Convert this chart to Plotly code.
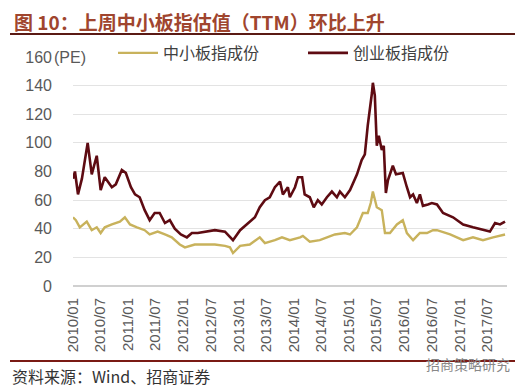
import plotly.graph_objects as go

# 创业板指成份 (ChiNext) PE TTM
cyb_dates = ["2010-01-01","2010-01-14","2010-02-03","2010-03-01","2010-04-08","2010-05-05","2010-06-07","2010-07-03",
             "2010-07-30","2010-09-15","2010-10-11","2010-11-20","2010-12-16","2011-01-19","2011-02-15","2011-03-18",
             "2011-04-20","2011-05-23","2011-06-25","2011-07-28","2011-09-01","2011-10-03","2011-11-05","2011-12-15",
             "2012-01-24","2012-02-26","2012-04-05","2012-05-21","2012-07-27","2012-10-02","2012-11-04","2012-11-24",
             "2013-01-10","2013-03-15","2013-04-18","2013-05-20","2013-06-23","2013-07-25","2013-08-28","2013-10-01",
             "2013-10-20","2013-11-22","2013-12-05","2014-01-08","2014-01-28","2014-02-24","2014-03-13","2014-04-16",
             "2014-05-12","2014-06-08","2014-07-04","2014-08-07","2014-09-09","2014-10-12","2014-11-01","2014-12-04",
             "2015-01-07","2015-02-22","2015-03-25","2015-04-15","2015-05-04","2015-06-01","2015-06-07","2015-06-20",
             "2015-07-03","2015-07-16","2015-08-05","2015-08-18","2015-09-01","2015-09-15","2015-10-17","2015-11-07",
             "2015-12-22","2016-01-18","2016-02-08","2016-02-28","2016-03-24","2016-04-13","2016-05-03","2016-06-05",
             "2016-07-01","2016-08-04","2016-09-13","2016-11-18","2017-01-24","2017-03-30","2017-06-04","2017-07-20",
             "2017-08-23","2017-09-25","2017-10-28"]
cyb_values = [75,80,64,75,100,78,91,67,
              76,69,71,81,79,69,64,62,
              53,46,51,51,44,46,40,36,
              34,37,37,38,39,38,34,32,
              39,45,48,55,60,62,69,73,
              64,69,62,69,76,76,64,62,
              55,60,57,62,66,62,66,62,
              67,78,88,92,112,135,142,133,
              98,105,95,98,65,74,84,78,
              79,69,62,64,58,64,56,57,
              58,57,51,48,43,41,39,38,
              44,43,45]

# 中小板指成份 (SME board) PE TTM
zxb_dates = ["2010-01-01","2010-01-20","2010-02-15","2010-03-12","2010-04-02","2010-05-05","2010-06-07","2010-07-03",
             "2010-07-30","2010-09-15","2010-11-07","2010-12-10","2011-01-13","2011-02-28","2011-04-20","2011-05-23",
             "2011-06-25","2011-07-15","2011-09-01","2011-10-16","2011-12-08","2012-01-11","2012-03-16","2012-05-21",
             "2012-07-27","2012-10-02","2012-11-04","2012-11-24","2013-01-10","2013-03-15","2013-05-20","2013-06-23",
             "2013-08-28","2013-10-14","2013-12-05","2014-02-11","2014-03-01","2014-04-16","2014-06-21","2014-09-29",
             "2014-12-04","2015-01-07","2015-02-22","2015-04-02","2015-05-04","2015-05-24","2015-06-07","2015-07-03",
             "2015-08-05","2015-08-26","2015-09-28","2015-11-13","2015-12-22","2016-01-18","2016-02-28","2016-04-13",
             "2016-05-30","2016-07-08","2016-08-04","2016-10-30","2017-01-24","2017-03-30","2017-06-04","2017-08-10",
             "2017-10-28"]
zxb_values = [48,46,41,43,45,39,41,37,
              41,43,45,48,43,41,39,36,
              37,38,36,34,29,27,29,29,
              29,28,27,23,28,29,34,30,
              32,34,32,34,35,31,32,36,
              37,36,41,51,51,58,66,55,
              53,37,37,43,46,37,32,37,
              37,39,39,36,32,34,32,34,
              36]

y_ticks = [0, 20, 40, 60, 80, 100, 120, 140, 160]
x_ticks = ["2010-01-01","2010-07-01","2011-01-01","2011-07-01","2012-01-01","2012-07-01","2013-01-01","2013-07-01",
           "2014-01-01","2014-07-01","2015-01-01","2015-07-01","2016-01-01","2016-07-01","2017-01-01","2017-07-01"]
x_labels = ["2010/01","2010/07","2011/01","2011/07","2012/01","2012/07","2013/01","2013/07",
            "2014/01","2014/07","2015/01","2015/07","2016/01","2016/07","2017/01","2017/07"]

GOLD = "#C8B25C"
DARKRED = "#5E0B12"
CJK = "Noto Sans CJK SC"

# the page body has an 8px default margin; size the figure so it fills the window
OFF = 8
W, H = 525 - OFF, 389 - OFF
pl, pr, pt, pb = 73 - OFF, 18, 57 - OFF, 389 - 286
pw, ph = W - pl - pr, H - pt - pb
def px(x): return (x - OFF - pl) / pw       # screen x -> paper
def py(y): return (H - pb - (y - OFF)) / ph  # screen y -> paper

fig = go.Figure()
fig.add_trace(go.Scatter(x=zxb_dates, y=zxb_values, mode="lines", name="中小板指成份",
                         line=dict(color=GOLD, width=2.4)))
fig.add_trace(go.Scatter(x=cyb_dates, y=cyb_values, mode="lines", name="创业板指成份",
                         line=dict(color=DARKRED, width=2.6)))

fig.update_layout(
    width=W, height=H,
    margin=dict(l=pl, r=pr, t=pt, b=pb, autoexpand=False),
    paper_bgcolor="white", plot_bgcolor="white",
    font=dict(family="Arial, Liberation Sans, sans-serif", color="#595959", size=13),
    showlegend=True,
    legend=dict(orientation="h", x=px(113), y=py(53), xanchor="left", yanchor="middle",
                font=dict(family=CJK, size=16, color="#404040"), bgcolor="rgba(0,0,0,0)",
                entrywidthmode="pixels", entrywidth=135, itemwidth=40),
    xaxis=dict(type="date", range=["2010-01-01", "2017-11-10"], tickvals=x_ticks, ticktext=x_labels,
               tickangle=-90, showgrid=False, zeroline=False, showline=False, ticks="",
               tickfont=dict(size=15, color="#595959"), ticklabelstandoff=8),
    yaxis=dict(range=[0, 160], tickvals=y_ticks, showgrid=True, gridcolor="#E3E3E3", gridwidth=1,
               zeroline=True, zerolinecolor="#D0D0D0", zerolinewidth=1.5, showline=False, ticks="",
               tickfont=dict(size=16, color="#595959"), ticklabelstandoff=20),
    annotations=[
        dict(text="图 10：上周中小板指估值（TTM）环比上升", x=px(12), y=py(21), xref="paper", yref="paper",
             showarrow=False, xanchor="left", yanchor="middle",
             font=dict(family=CJK, size=19, color="#A0452E", weight="bold")),
        dict(text="(PE)", x=0, y=160, xref="paper", yref="y", showarrow=False, xanchor="left",
             yanchor="middle", xshift=-21, font=dict(size=16, color="#595959")),
        dict(text="资料来源：Wind、招商证券", x=px(10), y=py(376), xref="paper", yref="paper", showarrow=False,
             xanchor="left", yanchor="middle", font=dict(family=CJK, size=16, color="#333333")),
        dict(text="招商策略研究", x=px(512), y=py(364), xref="paper", yref="paper", showarrow=False,
             xanchor="right", yanchor="middle", font=dict(family=CJK, size=14, color="#888888")),
    ],
)

fig.add_shape(type="line", xref="paper", yref="paper", x0=px(10), x1=px(515), y0=py(34), y1=py(34),
              line=dict(color="#5A1A14", width=2))
fig.add_shape(type="line", xref="paper", yref="paper", x0=px(10), x1=px(515), y0=py(361), y1=py(361),
              line=dict(color="#7A1A14", width=2))

fig.write_html("out.html")
